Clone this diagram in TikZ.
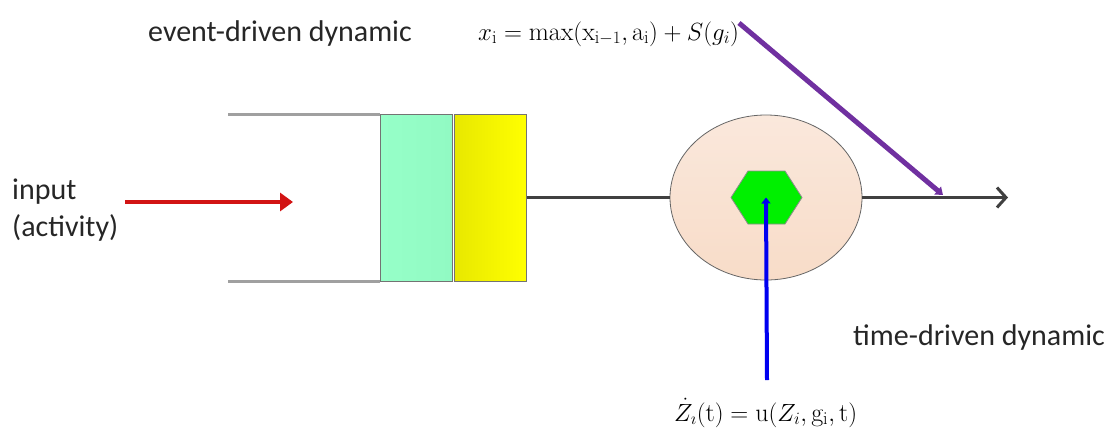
\documentclass[tikz,border=0pt]{standalone}
\usepackage{amsmath}
\usepackage{fontspec}
\newfontfamily\labelfont{Carlito}
\usetikzlibrary{shapes.geometric,arrows.meta,shadows}
\definecolor{teal1}{RGB}{150,255,200}
\definecolor{teal2}{RGB}{145,250,195}
\definecolor{yel1}{RGB}{232,232,0}
\definecolor{yel2}{RGB}{255,255,0}
\definecolor{peach1}{RGB}{250,232,220}
\definecolor{peach2}{RGB}{248,220,200}
\definecolor{hexgreen}{RGB}{0,240,0}
\definecolor{dgray}{RGB}{64,64,64}
\definecolor{lgray}{RGB}{160,160,160}
\definecolor{redarrow}{RGB}{210,20,20}
\definecolor{purparrow}{RGB}{112,48,160}
\definecolor{bluearrow}{RGB}{0,0,240}
\tikzset{
  lbl/.style={font=\labelfont\fontsize{30}{36}\selectfont, inner sep=0pt, anchor=base west, text=black!85},
  mth/.style={font=\fontsize{26}{32}\selectfont, inner sep=0pt, anchor=base west, text=black},
  bar/.style={draw=black!55, line width=1pt, minimum width=72pt, minimum height=167pt, inner sep=0pt},
  rail/.style={draw=lgray, line width=3pt},
}
\begin{document}
\begin{tikzpicture}[x=1pt,y=-1pt]
\useasboundingbox (0,0) rectangle (1119,432);
% rails
\draw[rail] (228,114) -- (380,114);
\draw[rail] (228,281) -- (380,281);
% queue boxes
\node[bar, left color=teal1, right color=teal2] (q1) at (416,197.5) {};
\node[bar, left color=yel1, right color=yel2] (q2) at (490.5,197.5) {};
% server
\node[ellipse, draw=black!60, line width=0.8pt, top color=peach1, bottom color=peach2,
      minimum width=192pt, minimum height=165pt, inner sep=0pt] (srv) at (766,197.5) {};
\coordinate (hexc) at (766,197.5);
\draw[draw=black!45, fill=hexgreen, line width=0.8pt]
  (731,197.5) -- (748,171) -- (785,171) -- (802,197.5) -- (785,224) -- (748,224) -- cycle;
\coordinate (outend) at (1008,197.5);
\coordinate (mark) at (943,195);
% connectors
\draw[dgray, line width=3pt] (q2.east) -- (srv.west);
\draw[dgray, line width=3pt, -{Straight Barb[length=9pt,width=20pt,line width=3pt]}] (srv.east) -- (outend);
% input arrow
\coordinate (inS) at (125,202);
\coordinate (inE) at (293,202);
\draw[redarrow, line width=4pt, -{Triangle[length=13pt,width=18pt]}] (inS) -- (inE);
% texts
\node[lbl] (ed) at (148,41) {event-driven dynamic};
\node[lbl] (inp) at (12,199) {input};
\node[lbl] (act) at (12,236) {(activity)};
\node[lbl] (td) at (853,345) {time-driven dynamic};
\node[mth] (f1) at (478,40) {$x_{\mathrm{i}} = \max(\mathrm{x}_{\mathrm{i}-1},\mathrm{a}_{\mathrm{i}}) + S(g_i)$};
\node[mth] (f2) at (674,421) {$\dot{Z}_{\imath}(\mathrm{t}) = \mathrm{u}(Z_i,\mathrm{g}_{\mathrm{i}},\mathrm{t})$};
% purple and blue arrows
\coordinate (pS) at (739,23);
\draw[purparrow, line width=5pt, -{Triangle[length=7pt,width=10pt]}] (pS) -- (mark);
\coordinate (bS) at (767,380);
\draw[bluearrow, line width=4pt, -{Triangle[length=6pt,width=9pt]}] (bS) -- (hexc);
\end{tikzpicture}
\end{document}
